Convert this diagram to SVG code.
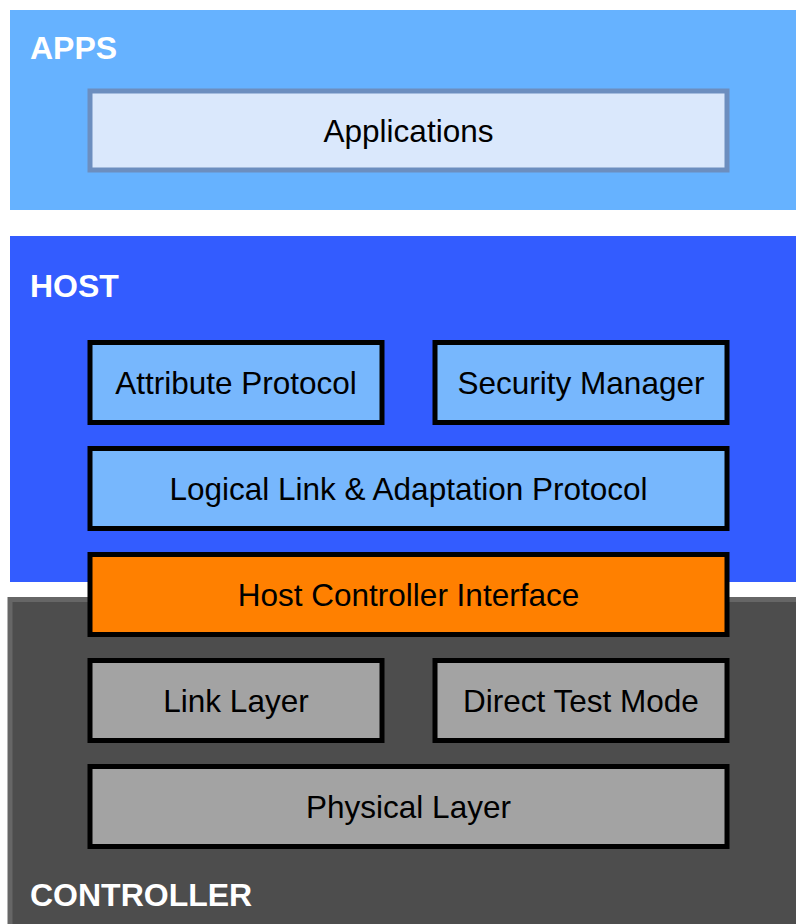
<svg xmlns="http://www.w3.org/2000/svg" width="796" height="924" viewBox="0 0 796 924">
<style>
.lbl{font-family:"Liberation Sans",Arial,Helvetica,sans-serif;font-size:31.5px;fill:#000;text-anchor:middle}
.title{font-family:"Liberation Sans",Arial,Helvetica,sans-serif;font-size:32px;font-weight:bold;fill:#fff}
.blk{stroke:#000;stroke-width:5}
.hostbox{fill:#77b7fd}
.ctrlbox{fill:#a3a3a3}
</style>
<rect width="796" height="924" fill="#ffffff"/>
<g id="apps">
<rect x="10" y="10" width="786" height="200" fill="#66b2ff"/>
<text class="title" x="30" y="59">APPS</text>
</g>
<g id="host">
<rect x="10" y="236" width="786" height="346" fill="#335cff"/>
<text class="title" x="30" y="297">HOST</text>
</g>
<g id="controller">
<rect x="10" y="599.5" width="800" height="340" fill="#4d4d4d" stroke="#666666" stroke-width="5"/>
<text class="title" x="30" y="906">CONTROLLER</text>
</g>
<g id="applications">
<rect x="90" y="91" width="637" height="79" fill="#dae8fc" stroke="#6c8ebf" stroke-width="5"/>
<text class="lbl" x="408.5" y="142">Applications</text>
</g>
<g id="attribute-protocol">
<rect class="blk hostbox" x="90" y="342.5" width="292" height="80"/>
<text class="lbl" x="236" y="393.5">Attribute Protocol</text>
</g>
<g id="security-manager">
<rect class="blk hostbox" x="435" y="342.5" width="292" height="80"/>
<text class="lbl" x="581" y="393.5">Security Manager</text>
</g>
<g id="l2cap">
<rect class="blk hostbox" x="90" y="448.5" width="637" height="80"/>
<text class="lbl" x="408.5" y="499.5">Logical Link &amp; Adaptation Protocol</text>
</g>
<g id="hci">
<rect class="blk" x="90" y="554.5" width="637" height="80" fill="#ff8000"/>
<text class="lbl" x="408.5" y="605.5">Host Controller Interface</text>
</g>
<g id="link-layer">
<rect class="blk ctrlbox" x="90" y="660.5" width="292" height="80"/>
<text class="lbl" x="236" y="711.5">Link Layer</text>
</g>
<g id="direct-test-mode">
<rect class="blk ctrlbox" x="435" y="660.5" width="292" height="80"/>
<text class="lbl" x="581" y="711.5">Direct Test Mode</text>
</g>
<g id="physical-layer">
<rect class="blk ctrlbox" x="90" y="766.5" width="637" height="80"/>
<text class="lbl" x="408.5" y="817.5">Physical Layer</text>
</g>
<g id="connectors"></g>
</svg>
